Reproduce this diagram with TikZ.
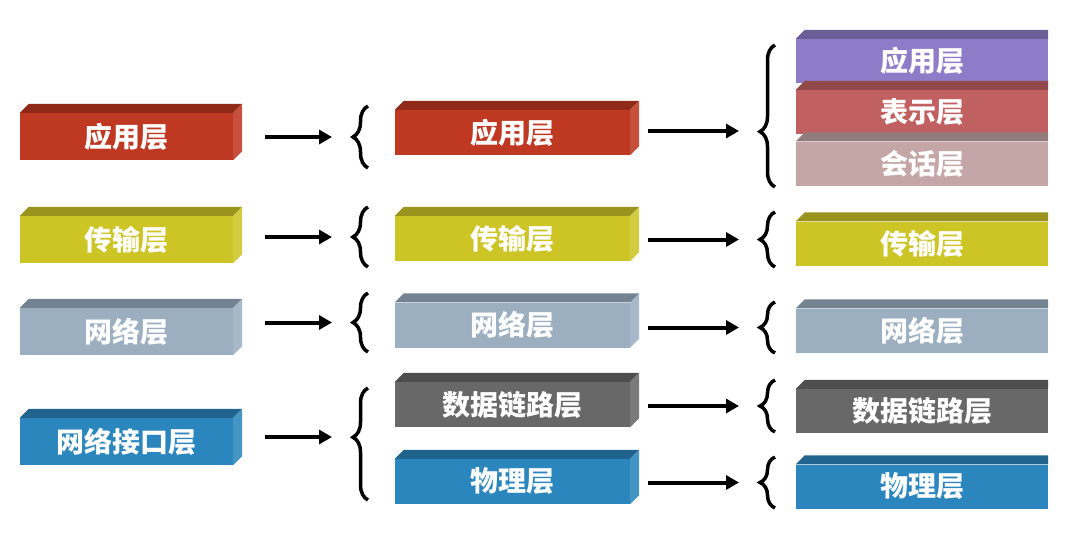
\documentclass[tikz,border=0pt]{standalone}
\usepackage{fontspec}
\newfontfamily\cjk{Noto Sans CJK SC}
\usetikzlibrary{arrows.meta,decorations.pathreplacing}

% Colours of the layers
\definecolor{cRed}{RGB}{190,56,34}
\definecolor{cYel}{RGB}{205,196,38}
\definecolor{cGry}{RGB}{155,175,193}
\definecolor{cDrk}{RGB}{104,104,104}
\definecolor{cBlu}{RGB}{42,134,188}
\definecolor{cPur}{RGB}{142,124,200}
\definecolor{cRos}{RGB}{192,96,96}
\definecolor{cPnk}{RGB}{196,166,166}

% top and side face of a layer box
\newcommand{\faces}[2]{%
  \fill[#2!75!black] (#1.north west) -- ++(9,-9) -- ([shift={(9,-9)}]#1.north east) -- (#1.north east) -- cycle;
  \fill[#2!88!white] (#1.north east) -- ++(9,-9) -- ([shift={(9,-9)}]#1.south east) -- (#1.south east) -- cycle;
}
% top face only, cut at the right edge
\newcommand{\topface}[2]{%
  \fill[#2!75!black] (#1.north west) -- ++(9,-9) -- ([yshift=9pt]#1.north east) -- (#1.north east) -- cycle;
}

\begin{document}
\begin{tikzpicture}[x=1pt,y=-1pt]
\tikzset{
    layer/.style={minimum height=45pt, inner sep=0pt, text=white,
        font=\cjk\bfseries\fontsize{28pt}{28pt}\selectfont},
    arr/.style={line width=4pt, shorten >=18pt, -{Triangle[length=13pt,width=14pt]}},
    brc/.style={line width=3.5pt, decorate, decoration={brace, amplitude=15pt}}
}
\useasboundingbox (0,0) rectangle (1076,554);

% TCP/IP model
\node[layer, minimum width=213pt, minimum height=47pt, fill=cRed] (ap1) at (126.5,136.5){应用层};
\faces{ap1}{cRed}
\node[layer, minimum width=213pt, minimum height=47pt, fill=cYel] (tr1) at (126.5,239.5){传输层};
\faces{tr1}{cYel}
\node[layer, minimum width=213pt, minimum height=47pt, fill=cGry] (nw1) at (126.5,331.5){网络层};
\faces{nw1}{cGry}
\node[layer, minimum width=213pt, minimum height=47pt, fill=cBlu] (ni1) at (126.5,441.5){网络接口层};
\faces{ni1}{cBlu}

% five layer model
\node[layer, minimum width=235pt, fill=cRed] (ap2) at (512.5,132.5){应用层};
\faces{ap2}{cRed}
\node[layer, minimum width=235pt, fill=cYel] (tr2) at (512.5,238.5){传输层};
\faces{tr2}{cYel}
\node[layer, minimum width=235pt, fill=cGry] (nw2) at (512.5,325){网络层};
\faces{nw2}{cGry}
\node[layer, minimum width=235pt, fill=cDrk] (dl2) at (512.5,404.5){数据链路层};
\faces{dl2}{cDrk}
\node[layer, minimum width=235pt, fill=cBlu] (ph2) at (512.5,481.5){物理层};
\faces{ph2}{cBlu}

% OSI model
\node[layer, minimum width=252pt, minimum height=44pt, fill=cPur] (ap3) at (922,61){应用层};
\topface{ap3}{cPur}
\node[layer, minimum width=252pt, minimum height=44pt, fill=cRos] (pr3) at (922,112){表示层};
\topface{pr3}{cRos}
\node[layer, minimum width=252pt, minimum height=44pt, fill=cPnk] (se3) at (922,163.5){会话层};
\topface{se3}{cPnk}
\node[layer, minimum width=252pt, minimum height=44pt, fill=cYel] (tr3) at (922,243.5){传输层};
\topface{tr3}{cYel}
\node[layer, minimum width=252pt, minimum height=44pt, fill=cGry] (nw3) at (922,330.5){网络层};
\topface{nw3}{cGry}
\node[layer, minimum width=252pt, minimum height=44pt, fill=cDrk] (dl3) at (922,411){数据链路层};
\topface{dl3}{cDrk}
\node[layer, minimum width=252pt, minimum height=44pt, fill=cBlu] (ph3) at (922,486.5){物理层};
\topface{ph3}{cBlu}

% Braces
\draw[brc] (368,168) -- (368,106);
\coordinate (k1) at (350,137);
\draw[brc] (368,267) -- (368,207);
\coordinate (k2) at (350,237);
\draw[brc] (368,352) -- (368,293);
\coordinate (k3) at (350,322.5);
\draw[brc, decoration={aspect=0.56}] (368,500) -- (368,388);
\coordinate (k4) at (350,437);

\draw[brc, decoration={aspect=0.39}] (775,187) -- (775,45);
\coordinate (m1) at (757,131);
\draw[brc] (775,267) -- (775,212);
\coordinate (m2) at (757,239.5);
\draw[brc] (775,353) -- (775,302);
\coordinate (m3) at (757,327.5);
\draw[brc] (775,432) -- (775,380);
\coordinate (m4) at (757,406);
\draw[brc] (775,508) -- (775,457);
\coordinate (m5) at (757,482.5);

% Connection
\draw[arr, shorten <=32pt] (ap1.east |- k1) -- (k1);
\draw[arr, shorten <=32pt] (tr1.east |- k2) -- (k2);
\draw[arr, shorten <=32pt] (nw1.east |- k3) -- (k3);
\draw[arr, shorten <=32pt] (ni1.east |- k4) -- (k4);

\draw[arr, shorten <=18pt] (ap2.east |- m1) -- (m1);
\draw[arr, shorten <=18pt] (tr2.east |- m2) -- (m2);
\draw[arr, shorten <=18pt] (nw2.east |- m3) -- (m3);
\draw[arr, shorten <=18pt] (dl2.east |- m4) -- (m4);
\draw[arr, shorten <=18pt] (ph2.east |- m5) -- (m5);

\end{tikzpicture}
\end{document}
